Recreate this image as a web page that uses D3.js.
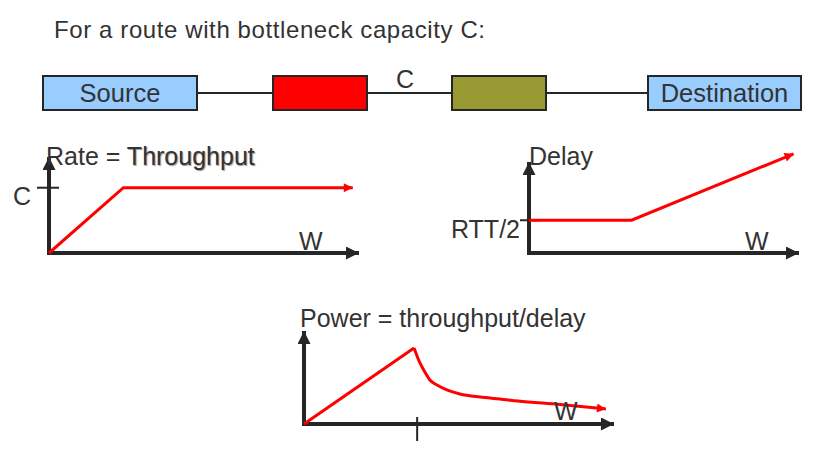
<!DOCTYPE html>
<html>
<head>
<meta charset="utf-8">
<script src="https://d3js.org/d3.v7.min.js"></script>
<style>
html,body{margin:0;padding:0;background:#fff;}
svg{display:block;font-family:"Liberation Sans",Arial,sans-serif;}
</style>
</head>
<body>
<svg id="c" width="824" height="450"></svg>
<script>
// ---- data ----
const titleText = "For a route with bottleneck capacity C:";
const nodeNames = ["Source", "", "", "Destination"];
const nodeColors = ["#99ccff", "#ff0000", "#999933", "#99ccff"];
const linkLabel = "C";

// Throughput vs window (W, rate) in relative units 0..100
const rateW = [0, 24, 98];
const rateV = [0, 68, 68];
const capacityLevel = 68;

// Delay vs window
const delayW = [0, 38, 98];
const delayV = [36, 36, 109];
const rttLevel = 36;

// Power vs window
const powerW = [0, 35.5, 37.4, 39.0, 40.6, 42.9, 46.1, 50.3, 56.8, 63.2, 69.0, 82.6, 97.4];
const powerV = [0, 81.7, 65.6, 55.9, 47.3, 41.9, 36.6, 32.3, 29.0, 26.9, 24.7, 21.0, 16.1];
const powerKneeW = 36.5;

const svg = d3.select("#c");
const ink = "#262626";
const textInk = "#333333";

// markers
const defs = svg.append("defs");
function marker(id, color, w, h) {
  defs.append("marker").attr("id", id)
    .attr("viewBox", "0 0 10 10").attr("refX", 10).attr("refY", 5)
    .attr("markerUnits", "userSpaceOnUse")
    .attr("markerWidth", w).attr("markerHeight", h)
    .attr("orient", "auto")
    .append("path").attr("d", "M0,0 L10,5 L0,10 Z").attr("fill", color);
}
marker("axArrow", ink, 13, 13);
marker("redArrow", "#ff0000", 11, 9);

// title
svg.append("text").attr("x", 54).attr("y", 38)
  .attr("font-size", 24).attr("letter-spacing", 0.6).attr("fill", textInk).text(titleText);

// ---- route diagram ----
const boxW = [154, 94, 94, 153];
const boxX = [43, 273, 452, 648];
svg.append("line").attr("x1", 197).attr("x2", 648).attr("y1", 93).attr("y2", 93)
  .attr("stroke", ink).attr("stroke-width", 2);
nodeNames.forEach((n, i) => {
  svg.append("rect").attr("x", boxX[i]).attr("y", 76).attr("width", boxW[i]).attr("height", 34)
    .attr("fill", nodeColors[i]).attr("stroke", ink).attr("stroke-width", 2);
  if (n) svg.append("text").attr("x", boxX[i] + boxW[i] / 2).attr("y", 102)
    .attr("text-anchor", "middle").attr("font-size", 25.5).attr("fill", textInk).text(n);
});
svg.append("text").attr("x", 405).attr("y", 88).attr("text-anchor", "middle")
  .attr("font-size", 25).attr("fill", textInk).text(linkLabel);

// ---- generic small chart ----
function chart(o) {
  const x = d3.scaleLinear().domain([0, 100]).range([o.x0, o.x1]);
  const y = d3.scaleLinear().domain([0, 100]).range([o.y0, o.y1]);
  const g = svg.append("g");
  g.append("line").attr("x1", x(0)).attr("y1", y(0)).attr("x2", x(0)).attr("y2", y(100))
    .attr("stroke", ink).attr("stroke-width", 4).attr("marker-end", "url(#axArrow)");
  g.append("line").attr("x1", x(0) - 2).attr("y1", y(0)).attr("x2", x(100)).attr("y2", y(0))
    .attr("stroke", ink).attr("stroke-width", 4).attr("marker-end", "url(#axArrow)");
  return {x, y, g};
}

// Chart 1: throughput
{
  const c = chart({x0: 49, x1: 359, y0: 253, y1: 157});
  const pts = rateW.map((w, i) => [c.x(w), c.y(rateV[i])]);
  c.g.append("line").attr("x1", c.x(0) - 12).attr("x2", c.x(0) + 10)
    .attr("y1", c.y(capacityLevel)).attr("y2", c.y(capacityLevel)).attr("stroke", ink).attr("stroke-width", 2);
  c.g.append("path").attr("d", d3.line()(pts)).attr("fill", "none").attr("stroke", "#ff0000")
    .attr("stroke-width", 3).attr("marker-end", "url(#redArrow)");
  c.g.append("text").attr("x", 13).attr("y", 205).attr("font-size", 25).attr("fill", textInk).text("C");
  c.g.append("text").attr("x", 46).attr("y", 165).attr("font-size", 25).attr("fill", textInk)
    .html('Rate = <tspan style="text-shadow:1px 1px 1px #999">Throughput</tspan>');
  c.g.append("text").attr("x", 299).attr("y", 250).attr("font-size", 25).attr("fill", textInk).text("W");
}

// Chart 2: delay
{
  const c = chart({x0: 529, x1: 799, y0: 253, y1: 162});
  const pts = delayW.map((w, i) => [c.x(w), c.y(delayV[i])]);
  c.g.append("line").attr("x1", c.x(0) - 9).attr("x2", c.x(0) + 10)
    .attr("y1", c.y(rttLevel)).attr("y2", c.y(rttLevel)).attr("stroke", ink).attr("stroke-width", 2);
  c.g.append("path").attr("d", d3.line()(pts)).attr("fill", "none").attr("stroke", "#ff0000")
    .attr("stroke-width", 3).attr("marker-end", "url(#redArrow)");
  c.g.append("text").attr("x", 451).attr("y", 238).attr("font-size", 25).attr("fill", textInk).text("RTT/2");
  c.g.append("text").attr("x", 529).attr("y", 165).attr("font-size", 25).attr("fill", textInk).text("Delay");
  c.g.append("text").attr("x", 745).attr("y", 250).attr("font-size", 25).attr("fill", textInk).text("W");
}

// Chart 3: power
{
  const c = chart({x0: 304, x1: 614, y0: 424, y1: 331});
  c.g.append("line").attr("x1", c.x(powerKneeW)).attr("x2", c.x(powerKneeW))
    .attr("y1", c.y(0) - 7).attr("y2", c.y(0) + 17).attr("stroke", ink).attr("stroke-width", 2);
  const pts = powerW.map((w, i) => [c.x(w), c.y(powerV[i])]);
  c.g.append("path").attr("d", d3.line()(pts.slice(0, 2))).attr("fill", "none")
    .attr("stroke", "#ff0000").attr("stroke-width", 3);
  c.g.append("path").attr("d", d3.line().curve(d3.curveMonotoneX)(pts.slice(1))).attr("fill", "none")
    .attr("stroke", "#ff0000").attr("stroke-width", 3).attr("marker-end", "url(#redArrow)");
  c.g.append("text").attr("x", 300).attr("y", 327).attr("font-size", 25).attr("fill", textInk).text("Power = throughput/delay");
  c.g.append("text").attr("x", 554).attr("y", 420).attr("font-size", 25).attr("fill", textInk).text("W");
}
</script>
</body>
</html>
